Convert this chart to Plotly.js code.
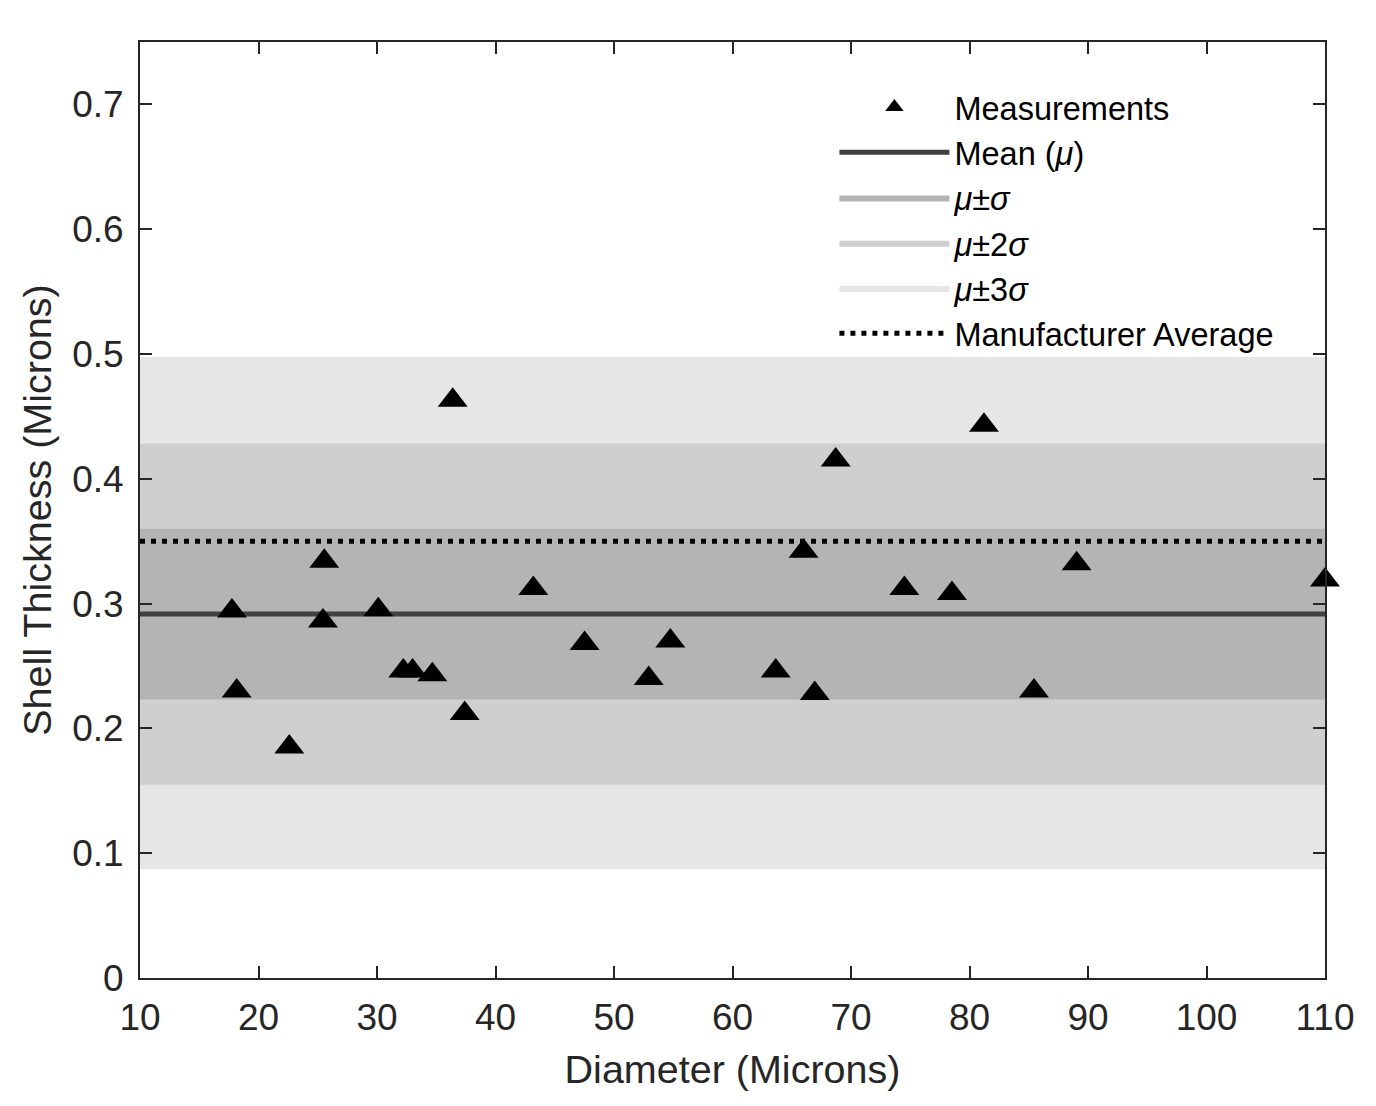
<!DOCTYPE html>
<html>
<head>
<meta charset="utf-8">
<script src="https://cdn.plot.ly/plotly-3.0.1.min.js"></script>
<style>
  html, body { margin: 0; padding: 0; background: #ffffff; }
  #graph { width: 1376px; height: 1106px; }
</style>
</head>
<body>
<div id="graph"></div>
<script>
const diameters = [17.76, 18.16, 22.6, 25.55, 25.44, 30.11, 32.22, 33.0, 34.67, 36.39,
  37.4, 43.19, 47.52, 52.93, 54.75, 63.65, 66.0, 66.94, 68.71, 74.5,
  78.52, 81.22, 85.44, 89.04, 110.0];
const thickness = [0.294, 0.230, 0.185, 0.334, 0.286, 0.295, 0.246, 0.246, 0.243, 0.463,
  0.212, 0.312, 0.268, 0.240, 0.270, 0.246, 0.342, 0.228, 0.415, 0.312,
  0.308, 0.443, 0.230, 0.332, 0.319];

const xSpan = [10, 110];
const meanValue = 0.2917;
const manufacturerValue = 0.350;
// band edges [low, high] for mu±sigma, mu±2sigma, mu±3sigma
const band1 = [0.2232, 0.3599];
const band2 = [0.1548, 0.4283];
const band3 = [0.0872, 0.4975];

const bandNames = ["<i>μ</i>±<i>σ</i>", "<i>μ</i>±2<i>σ</i>", "<i>μ</i>±3<i>σ</i>"];
const bandColors = ["#b4b4b4", "#cfcfcf", "#e6e6e6"];

const axisColor = "#262626";
const fontFamily = "'Liberation Sans', Arial, Helvetica, sans-serif";

function bandTrace(edges, name, color, rank) {
  return {
    type: "scatter",
    mode: "lines",
    x: [xSpan[0], xSpan[1], xSpan[1], xSpan[0], xSpan[0]],
    y: [edges[0], edges[0], edges[1], edges[1], edges[0]],
    fill: "toself",
    fillcolor: color,
    line: { width: 0, color: color },
    name: name,
    legendrank: rank,
    hoverinfo: "skip",
  };
}

const traces = [
  bandTrace(band3, bandNames[2], bandColors[2], 5),
  bandTrace(band2, bandNames[1], bandColors[1], 4),
  bandTrace(band1, bandNames[0], bandColors[0], 3),
  {
    type: "scatter",
    mode: "lines",
    x: xSpan,
    y: [meanValue, meanValue],
    name: "Mean (<i>μ</i>)",
    line: { color: "#404040", width: 5 },
    legendrank: 2,
  },
  {
    type: "scatter",
    mode: "lines",
    x: xSpan,
    y: [manufacturerValue, manufacturerValue],
    name: "Manufacturer Average",
    line: { color: "#000000", width: 5, dash: "5px,6px" },
    legendrank: 6,
  },
  {
    type: "scatter",
    mode: "markers",
    x: diameters,
    y: thickness,
    name: "Measurements",
    marker: { symbol: "triangle-up", size: 26, color: "#000000" },
    cliponaxis: false,
    legendrank: 1,
  },
];

const layout = {
  width: 1376,
  height: 1106,
  paper_bgcolor: "#ffffff",
  plot_bgcolor: "#ffffff",
  margin: { l: 140, r: 51, t: 42, b: 128, pad: 0 },
  font: { family: fontFamily, color: axisColor, size: 37 },
  showlegend: true,
  legend: {
    x: 0.586,
    y: 0.96,
    xanchor: "left",
    yanchor: "top",
    bgcolor: "rgba(255,255,255,0)",
    borderwidth: 0,
    font: { size: 32.5, color: "#000000" },
    itemwidth: 110,
    traceorder: "normal",
  },
  xaxis: {
    range: xSpan,
    dtick: 10,
    tick0: 10,
    showgrid: false,
    zeroline: false,
    showline: true,
    linecolor: axisColor,
    linewidth: 2,
    mirror: "allticks",
    ticks: "inside",
    ticklen: 12,
    tickwidth: 2,
    tickcolor: axisColor,
    ticklabelstandoff: 6,
    tickfont: { size: 37, color: axisColor },
    title: { text: "Diameter (Microns)", font: { size: 39.5, color: axisColor }, standoff: 18 },
  },
  yaxis: {
    range: [0, 0.75],
    dtick: 0.1,
    tick0: 0,
    showgrid: false,
    zeroline: false,
    showline: true,
    linecolor: axisColor,
    linewidth: 2,
    mirror: "allticks",
    ticks: "inside",
    ticklen: 12,
    tickwidth: 2,
    tickcolor: axisColor,
    ticklabelstandoff: 7,
    tickfont: { size: 37, color: axisColor },
    title: { text: "Shell Thickness (Microns)", font: { size: 39.5, color: axisColor }, standoff: 8 },
  },
};

Plotly.newPlot("graph", traces, layout, { displayModeBar: false, staticPlot: true });
</script>
</body>
</html>
